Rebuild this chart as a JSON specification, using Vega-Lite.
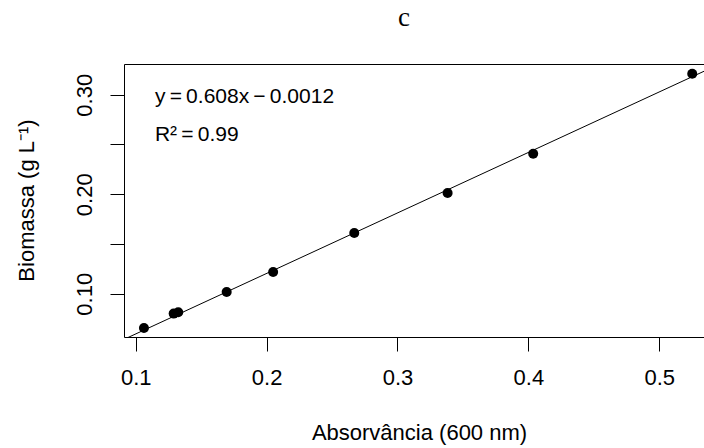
{
  "$schema": "https://vega.github.io/schema/vega-lite/v6.json",
  "autosize": {"type": "none"},
  "padding": {"left": 124, "top": 64, "right": 0, "bottom": 111},
  "width": 580,
  "height": 273,
  "background": "white",
  "config": {
    "view": {"stroke": null},
    "font": "Liberation Sans",
    "axis": {"grid": false, "domainColor": "black", "tickColor": "black", "labelColor": "black", "titleColor": "black", "domainWidth": 1, "tickWidth": 1}
  },
  "title": {"text": "c", "font": "Liberation Serif", "fontSize": 27, "fontWeight": "normal", "color": "black", "anchor": "middle", "dx": -10, "offset": 11, "baseline": "alphabetic"},
  "datasets": {
    "pts": [
      {"x": 0.1063, "y": 0.0655},
      {"x": 0.129, "y": 0.0800},
      {"x": 0.1325, "y": 0.0813},
      {"x": 0.1695, "y": 0.1017},
      {"x": 0.205, "y": 0.1218},
      {"x": 0.267, "y": 0.161},
      {"x": 0.3383, "y": 0.2012},
      {"x": 0.4037, "y": 0.2407},
      {"x": 0.5252, "y": 0.3211}
    ],
    "fit": [
      {"x": 0.0905, "y": 0.0538},
      {"x": 0.5342, "y": 0.3236}
    ],
    "notes": [
      {"x": 0.1147, "y": 0.2917, "label": "y\u2009=\u20090.608x\u2009\u2212\u20090.0012"},
      {"x": 0.1147, "y": 0.2531, "label": "R\u00b2\u2009=\u20090.99"}
    ]
  },
  "layer": [
    {
      "data": {"name": "fit"},
      "mark": {"type": "line", "color": "black", "strokeWidth": 1, "clip": true},
      "encoding": {
        "x": {"field": "x", "type": "quantitative", "scale": {"domain": [0.09106, 0.5342], "nice": false, "zero": false},
          "axis": {"orient": "bottom", "values": [0.1, 0.2, 0.3, 0.4, 0.5], "format": ".1f", "tickSize": 14, "labelFontSize": 22, "labelPadding": 16, "labelBaseline": "top", "title": "Absorvância (600 nm)", "titleFontSize": 22, "titleFontWeight": "normal", "titleBaseline": "alphabetic", "titleY": 102, "titleX": 295}},
        "y": {"field": "y", "type": "quantitative", "scale": {"domain": [0.0565, 0.3309], "nice": false, "zero": false},
          "axis": {"orient": "left", "values": [0.1, 0.15, 0.2, 0.25, 0.3], "labelExpr": "round(datum.value*100) % 10 == 0 ? format(datum.value, '.2f') : ''", "tickSize": 14, "labelFontSize": 22, "labelAngle": -90, "labelAlign": "center", "labelBaseline": "alphabetic", "labelPadding": 19, "title": "Biomassa (g L⁻¹)", "titleFontSize": 22, "titleFontWeight": "normal", "titleAngle": -90, "titleAlign": "center", "titleBaseline": "alphabetic", "titleX": -91, "titleY": 136}}
      }
    },
    {
      "data": {"name": "pts"},
      "mark": {"type": "point", "filled": true, "color": "black", "opacity": 1, "size": 100, "clip": true},
      "encoding": {
        "x": {"field": "x", "type": "quantitative", "axis": {"orient": "top", "labels": false, "ticks": false, "title": null}},
        "y": {"field": "y", "type": "quantitative"}
      }
    },
    {
      "data": {"name": "notes"},
      "mark": {"type": "text", "align": "left", "baseline": "alphabetic", "fontSize": 21, "color": "black"},
      "encoding": {
        "x": {"field": "x", "type": "quantitative", "axis": null},
        "y": {"field": "y", "type": "quantitative"},
        "text": {"field": "label"}
      }
    }
  ],
  "resolve": {"axis": {"x": "independent"}}
}
